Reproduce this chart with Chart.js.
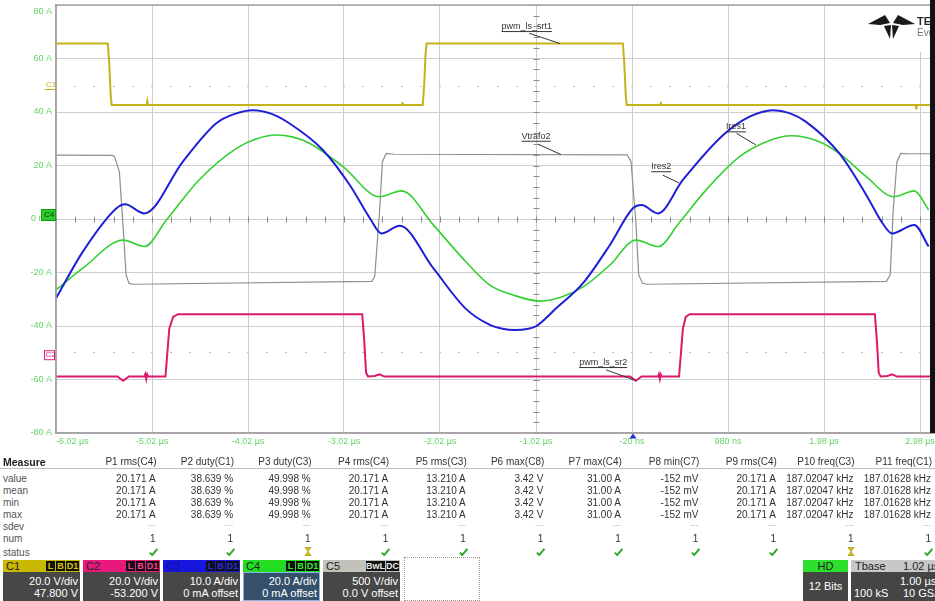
<!DOCTYPE html>
<html>
<head>
<meta charset="utf-8">
<title>Resonant converter currents</title>
<script src="https://cdn.jsdelivr.net/npm/chart.js@4/dist/chart.umd.min.js"></script>
<style>
  html, body { margin: 0; padding: 0; background: #fff; width: 935px; height: 601px; overflow: hidden;
               font-family: "Liberation Sans", Arial, sans-serif; }
  #wrap { position: absolute; left: 0; top: 0; width: 1040px; height: 460px; }
  #edge { position: absolute; left: 930px; top: 0; width: 5px; height: 433px; background: #111; }
  .t { position: absolute; white-space: nowrap; line-height: 12px; }
  .box { position: absolute; overflow: hidden; }
</style>
</head>
<body>
<div id="wrap"><canvas id="scope"></canvas></div>
<div id="edge"></div>
<div id="meas"></div>
<div id="bar"></div>
<script>
// ---- time axis (µs) and amplitude axis (A, 20 A/div) ----
const timeTicks  = [-6.02, -5.02, -4.02, -3.02, -2.02, -1.02, -0.02, 0.98, 1.98, 2.98, 3.98];
const timeLabels = ['-6.02 µs', '-5.02 µs', '-4.02 µs', '-3.02 µs', '-2.02 µs', '-1.02 µs', '-20 ns', '980 ns', '1.98 µs', '2.98 µs', '3.98 µs'];
const ampTicks   = [-80, -60, -40, -20, 0, 20, 40, 60, 80];
const ampLabels  = ['-80 A', '-60 A', '-40 A', '-20 A', '0 mA', '20 A', '40 A', '60 A', '80 A'];

// C1: pwm_ls_srt1 gate signal
const c1Time  = [-6.02, -5.48, -5.465, -5.45, -5.44, -5.075, -5.07, -5.065, -2.415, -2.41, -2.405, -2.20, -2.185, -2.17, -2.16, -0.115, -0.10, -0.085, -0.075, 0.275, 0.28, 0.285, 2.935, 2.94, 2.945, 3.10];
const c1Level = [65.6, 65.6, 58.0, 46.0, 42.6, 42.6, 43.8, 42.6, 42.6, 43.7, 42.6, 42.6, 50.0, 62.0, 65.6, 65.6, 58.0, 46.0, 42.6, 42.6, 43.8, 42.6, 42.6, 41.4, 42.6, 42.6];

// C2: pwm_ls_sr2 gate signal
const c2Time  = [-6.02, -5.38, -5.32, -5.26, -5.10, -5.09, -5.08, -5.07, -5.06, -4.88, -4.86, -4.84, -4.80, -4.75, -2.83, -2.81, -2.79, -2.77, -2.70, -2.65, -2.60, -0.04, 0.02, 0.08, 0.25, 0.26, 0.27, 0.28, 0.29, 0.47, 0.49, 0.51, 0.54, 0.58, 2.51, 2.53, 2.55, 2.57, 2.64, 2.69, 2.74, 3.10];
const c2Level = [-58.9, -58.9, -60.5, -58.9, -58.9, -58.0, -59.8, -58.1, -58.9, -58.9, -50.0, -41.0, -36.6, -35.6, -35.6, -45.0, -57.5, -58.9, -58.7, -58.1, -58.9, -58.9, -60.5, -58.9, -58.9, -58.0, -59.8, -58.1, -58.9, -58.9, -50.0, -41.0, -36.6, -35.6, -35.6, -45.0, -57.5, -58.9, -58.7, -58.1, -58.9, -58.9];

// C3: Ires1 resonant current
const c3Time  = [-6.02, -5.74, -5.39, -5.30, -5.10, -4.70, -4.35, -4.15, -3.97, -3.78, -3.59, -3.24, -2.96, -2.75, -2.63, -2.44, -2.09, -1.75, -1.50, -1.37, -1.24, -1.10, -1.02, -0.81, -0.53, -0.25, -0.01, 0.08, 0.25, 0.51, 0.93, 1.20, 1.45, 1.62, 1.79, 2.14, 2.42, 2.59, 2.69, 2.92, 3.07];
const c3Level = [-29.6, -12.2, 4.0, 5.5, 2.1, 21.4, 35.8, 39.4, 40.7, 39.4, 35.8, 25.8, 12.7, 0.3, -5.4, -2.5, -18.4, -33.6, -39.6, -41.0, -41.5, -41.0, -40.1, -33.4, -24.0, -9.7, 4.0, 5.2, 2.1, 14.6, 31.4, 38.2, 40.7, 39.6, 36.4, 24.5, 9.0, -1.6, -5.4, -2.2, -10.3];

// C4: Ires2 resonant current
const c4Time  = [-6.02, -5.74, -5.32, -5.10, -4.87, -4.53, -4.14, -3.93, -3.73, -3.55, -3.38, -3.03, -2.65, -2.42, -2.09, -1.75, -1.50, -1.26, -0.98, -0.74, -0.50, -0.25, 0.02, 0.25, 0.48, 0.75, 1.10, 1.38, 1.64, 1.93, 2.14, 2.42, 2.71, 2.92, 3.07];
const c4Level = [-26.5, -18.4, -7.9, -10.3, -0.4, 14.6, 26.4, 30.0, 31.4, 30.6, 28.3, 19.6, 8.3, 10.5, -2.2, -16.0, -24.7, -28.4, -30.7, -29.0, -24.7, -17.2, -7.9, -10.3, -1.0, 10.8, 23.3, 28.9, 31.1, 28.9, 24.5, 15.8, 8.3, 10.5, 3.4];

// C5: Vtrafo2 transformer voltage
const c5Time  = [-6.02, -5.43, -5.41, -5.36, -5.32, -5.29, -5.26, -5.22, -2.73, -2.70, -2.65, -2.62, -2.58, -2.50, -0.07, -0.03, 0.02, 0.05, 0.09, 0.13, 2.63, 2.67, 2.70, 2.74, 2.78, 2.85, 3.10];
const c5Level = [23.9, 23.8, 23.3, 17.7, -3.5, -20.9, -24.0, -24.4, -23.3, -21.5, 2.7, 21.4, 24.5, 24.2, 24.0, 21.4, -1.0, -20.9, -24.0, -24.4, -23.3, -20.9, 2.7, 21.4, 24.5, 24.4, 24.4];

// channel offset reference levels (grid units)
const c1Ref = 49.9;
const c2Ref = -49.8;

// measurement panel
const measHeaders = ['P1 rms(C4)', 'P2 duty(C1)', 'P3 duty(C3)', 'P4 rms(C4)', 'P5 rms(C3)', 'P6 max(C8)', 'P7 max(C4)', 'P8 min(C7)', 'P9 rms(C4)', 'P10 freq(C3)', 'P11 freq(C1)'];
const measValue   = ['20.171 A', '38.639 %', '49.998 %', '20.171 A', '13.210 A', '3.42 V', '31.00 A', '-152 mV', '20.171 A', '187.02047 kHz', '187.01628 kHz'];
const measMean    = measValue;
const measMin     = measValue;
const measMax     = measValue;
const measNum     = ['1', '1', '1', '1', '1', '1', '1', '1', '1', '1', '1'];
const measStatus  = ['ok', 'ok', 'warn', 'ok', 'ok', 'ok', 'ok', 'ok', 'ok', 'warn', 'ok'];

// channel descriptors
const channels = [
  { name: 'C1', head: '#c9b800', badgeText: '#d8c800', badges: ['L', 'B', 'D1'], vdiv: '20.0 V/div', offset: '47.800 V' },
  { name: 'C2', head: '#e8187c', badgeText: '#ff3a98', badges: ['L', 'B', 'D1'], vdiv: '20.0 V/div', offset: '-53.200 V' },
  { name: 'C3', head: '#1616dc', badgeText: '#2a2ae8', badges: ['L', 'B', 'D1'], vdiv: '10.0 A/div', offset: '0 mA offset', nameColor: '#10108a' },
  { name: 'C4', head: '#22dd22', badgeText: '#30ee30', badges: ['L', 'B', 'D1'], vdiv: '20.0 A/div', offset: '0 mA offset', active: true },
  { name: 'C5', head: '#c2c2ba', badgeText: '#e8e8e8', badges: ['BwL', 'DC'], vdiv: '500 V/div', offset: '0.0 V offset' }
];

const pts = (ts, vs) => ts.map((t, i) => ({ x: t, y: vs[i] }));

const FONT = '"Liberation Sans", Arial, sans-serif';
const AXIS_GREEN = '#62d462';

// trace tags: text anchored in data units with a leader line to the trace
const traceTags = [
  { text: 'pwm_ls_srt1', t: -1.38, v: 71.0, from: [-1.09, 69.4], to: [-0.77, 65.6] },
  { text: 'Vtrafo2',     t: -1.17, v: 30.0, from: [-1.00, 28.0], to: [-0.76, 24.1] },
  { text: 'Ires2',       t: 0.18,  v: 18.6, from: [0.30, 16.4],  to: [0.47, 13.5] },
  { text: 'Ires1',       t: 0.96,  v: 33.5, from: [1.07, 32.0],  to: [1.27, 27.7] },
  { text: 'pwm_ls_sr2',  t: -0.57, v: -54.6, from: [-0.29, -56.4], to: [0.02, -60.4] }
];

const scopeDecor = {
  id: 'scopeDecor',
  beforeDatasetsDraw(chart) {
    const { ctx, scales: { x, y } } = chart;
    ctx.save();
    // minor ticks on the centre cross
    ctx.strokeStyle = '#8c8c8c';
    ctx.lineWidth = 1;
    const y0 = Math.round(y.getPixelForValue(0)) + 0.5;
    const xc = Math.round(x.getPixelForValue(-1.02)) + 0.5;
    ctx.beginPath();
    for (let k = 0; k <= 50; k++) {
      const px = Math.round(x.getPixelForValue(-6.02 + k * 0.2)) + 0.5;
      ctx.moveTo(px, y0 - 3); ctx.lineTo(px, y0 + 3);
    }
    for (let k = 0; k <= 40; k++) {
      const py = Math.round(y.getPixelForValue(-80 + k * 4)) + 0.5;
      ctx.moveTo(xc - 3, py); ctx.lineTo(xc + 3, py);
    }
    ctx.stroke();
    // dotted channel reference lines
    ctx.fillStyle = '#bcbcbc';
    [c1Ref, c2Ref].forEach(v => {
      const py = Math.round(y.getPixelForValue(v));
      for (let k = 0; k <= 50; k++) {
        const px = Math.round(x.getPixelForValue(-6.02 + k * 0.2));
        ctx.fillRect(px - 1, py, 2, 1);
      }
    });
    ctx.restore();
  },
  afterDatasetsDraw(chart) {
    const { ctx, chartArea: a, scales: { x, y } } = chart;
    ctx.save();
    // frame
    ctx.strokeStyle = '#a4a4a4';
    ctx.lineWidth = 1.5;
    ctx.strokeRect(a.left, a.top, a.right - a.left, a.bottom - a.top);

    // trace tags
    ctx.font = '9px ' + FONT;
    ctx.fillStyle = '#333';
    ctx.strokeStyle = '#333';
    ctx.lineWidth = 1;
    ctx.textBaseline = 'alphabetic';
    traceTags.forEach(tag => {
      const tx = x.getPixelForValue(tag.t), ty = y.getPixelForValue(tag.v);
      ctx.fillText(tag.text, tx, ty);
      const w = ctx.measureText(tag.text).width;
      ctx.beginPath();
      ctx.moveTo(tx, ty + 2.5); ctx.lineTo(tx + w, ty + 2.5);
      ctx.moveTo(x.getPixelForValue(tag.from[0]), y.getPixelForValue(tag.from[1]));
      ctx.lineTo(x.getPixelForValue(tag.to[0]), y.getPixelForValue(tag.to[1]));
      ctx.stroke();
    });

    // channel markers at the left edge
    const yC1 = y.getPixelForValue(c1Ref), yC2 = y.getPixelForValue(c2Ref), yC4 = y.getPixelForValue(0);
    ctx.font = '8px ' + FONT;
    ctx.textBaseline = 'middle';
    ctx.fillStyle = '#c2b000';
    ctx.fillText('C1', a.left - 10, yC1 - 1);
    ctx.strokeStyle = '#c2b000';
    ctx.beginPath(); ctx.moveTo(a.left - 11, yC1 + 4); ctx.lineTo(a.left - 1, yC1 + 4); ctx.stroke();
    ctx.strokeStyle = '#e0207a';
    ctx.strokeRect(a.left - 11.5, yC2 - 1.5, 10, 9);
    ctx.fillStyle = '#e0207a';
    ctx.fillText('C2', a.left - 10.5, yC2 + 3);
    ctx.fillStyle = '#2ccc2c';
    ctx.fillRect(a.left - 15, yC4 - 10, 15, 12);
    ctx.strokeStyle = '#139a13';
    ctx.strokeRect(a.left - 14.5, yC4 - 9.5, 14, 11);
    ctx.fillStyle = '#0b3d0b';
    ctx.fillText('C4', a.left - 12, yC4 - 4);

    // trigger position marker
    const xt = x.getPixelForValue(-0.02);
    ctx.fillStyle = '#1f2fe0';
    ctx.beginPath();
    ctx.moveTo(xt + 1, a.bottom + 0.5);
    ctx.lineTo(xt + 4.5, a.bottom + 5.5);
    ctx.lineTo(xt - 2.5, a.bottom + 5.5);
    ctx.closePath();
    ctx.fill();

    // vendor mark in the top right corner
    ctx.fillStyle = '#fff';
    ctx.fillRect(846, 6, 84, 46);
    ctx.fillStyle = '#1a1a1a';
    ctx.beginPath();
    ctx.moveTo(868, 24); ctx.lineTo(885, 15); ctx.lineTo(890, 23); ctx.lineTo(880, 25); ctx.closePath();
    ctx.moveTo(915, 24); ctx.lineTo(898, 15); ctx.lineTo(893, 23); ctx.lineTo(903, 25); ctx.closePath();
    ctx.moveTo(884, 26); ctx.lineTo(891, 25); ctx.lineTo(890, 39); ctx.closePath();
    ctx.moveTo(899, 26); ctx.lineTo(892, 25); ctx.lineTo(893, 39); ctx.closePath();
    ctx.fill();
    ctx.textBaseline = 'alphabetic';
    ctx.font = 'bold 11px ' + FONT;
    ctx.fillStyle = '#2a2a2a';
    ctx.fillText('TELEDYNE', 917, 25);
    ctx.font = '10px ' + FONT;
    ctx.fillStyle = '#777';
    ctx.fillText('Everywhere', 917, 36);
    ctx.restore();
  }
};

const mkSet = (data, color, width, smooth) => ({
  data, borderColor: color, borderWidth: width, pointRadius: 0, fill: false,
  tension: 0, cubicInterpolationMode: smooth ? 'monotone' : 'default'
});

new Chart(document.getElementById('scope'), {
  type: 'line',
  data: {
    datasets: [
      mkSet(pts(c3Time, c3Level), '#1f1fd6', 2, true),
      mkSet(pts(c4Time, c4Level), '#33d033', 1.6, true),
      mkSet(pts(c2Time, c2Level), '#dc1a6c', 2, false),
      mkSet(pts(c1Time, c1Level), '#c6b31c', 2, false),
      mkSet(pts(c5Time, c5Level), '#8f8f8f', 1.2, false)
    ]
  },
  options: {
    responsive: true,
    maintainAspectRatio: false,
    animation: false,
    layout: { padding: { left: 0, top: 5, right: 24, bottom: 0 } },
    plugins: { legend: { display: false }, tooltip: { enabled: false } },
    scales: {
      x: {
        type: 'linear', min: -6.02, max: 3.98,
        afterBuildTicks: s => { s.ticks = timeTicks.map(v => ({ value: v })); },
        afterFit: s => { s.height = 27; s.paddingLeft = 0; s.paddingRight = 0; },
        ticks: {
          callback: (v, i) => timeLabels[i], autoSkip: false, maxRotation: 0, align: 'inner',
          color: AXIS_GREEN, font: { family: FONT, size: 9 }, padding: 3
        },
        grid: { color: '#cdcdcd', lineWidth: 1, drawTicks: false },
        border: { color: '#a4a4a4', width: 1.5 }
      },
      y: {
        min: -80, max: 80,
        afterBuildTicks: s => { s.ticks = ampTicks.map(v => ({ value: v })); },
        afterFit: s => { s.width = 56; s.paddingTop = 0; s.paddingBottom = 0; },
        ticks: {
          // the top label sits just inside the frame, one half line lower
          callback: v => v === 80 ? ['', ampLabels[ampTicks.indexOf(v)]] : ampLabels[ampTicks.indexOf(v)],
          autoSkip: false,
          color: AXIS_GREEN, font: { family: FONT, size: 9, lineHeight: 1.5 }, padding: 4
        },
        grid: { color: '#cdcdcd', lineWidth: 1, drawTicks: false },
        border: { color: '#a4a4a4', width: 1.5 }
      }
    }
  },
  plugins: [scopeDecor]
});

// ---- measurement panel ----
const meas = document.getElementById('meas');
function put(parent, text, css) {
  const d = document.createElement('div');
  d.className = 't';
  d.textContent = text;
  Object.assign(d.style, css);
  parent.appendChild(d);
  return d;
}
const colRight = i => 79 + (i + 1) * 77.55;
put(meas, 'Measure', { left: '3px', top: '456px', font: 'bold 10.5px ' + FONT, color: '#222' });
const rule = document.createElement('div');
Object.assign(rule.style, { position: 'absolute', left: '0px', top: '468px', width: '935px', height: '1px', background: '#bdbdbd' });
meas.appendChild(rule);
measHeaders.forEach((h, i) => put(meas, h, { right: (935 - colRight(i)) + 'px', top: '456px', font: '10px ' + FONT, color: '#333' }));

const rows = [
  ['value', measValue, 472.5], ['mean', measMean, 484.5], ['min', measMin, 496.8],
  ['max', measMax, 509], ['sdev', null, 520.5], ['num', measNum, 532.5]
];
rows.forEach(([label, vals, top]) => {
  put(meas, label, { left: '3px', top: top + 'px', font: '10px ' + FONT, color: '#555' });
  measHeaders.forEach((h, i) => {
    if (vals) put(meas, vals[i], { right: (935 - colRight(i) + 1) + 'px', top: top + 'px', font: '10px ' + FONT, color: '#333' });
    else put(meas, '---', { right: (935 - colRight(i) + 1) + 'px', top: (top - 1) + 'px', font: '8px ' + FONT, color: '#b0b0b0' });
  });
});
put(meas, 'status', { left: '3px', top: '547px', font: '10px ' + FONT, color: '#555' });
const okIcon = '<svg width="9" height="8" viewBox="0 0 9 8"><path d="M0.8 4.6 L3.2 7 L8.4 0.8" stroke="#2fae2f" stroke-width="2" fill="none"/></svg>';
const warnIcon = '<svg width="8" height="9" viewBox="0 0 8 9"><path d="M1 0.5 H7 L4 4.5 L7 8.5 H1 L4 4.5 Z" fill="#e2c400" stroke="#8a7a00" stroke-width="0.6"/></svg>';
measStatus.forEach((s, i) => {
  const d = document.createElement('div');
  d.innerHTML = s === 'ok' ? okIcon : warnIcon;
  Object.assign(d.style, { position: 'absolute', left: (colRight(i) - 8) + 'px', top: (s === 'ok' ? 548 : 547) + 'px', lineHeight: '0' });
  meas.appendChild(d);
});

// ---- channel / timebase bar ----
const bar = document.getElementById('bar');
function box(left, top, w, h, bg, extra) {
  const d = document.createElement('div');
  d.className = 'box';
  Object.assign(d.style, { left: left + 'px', top: top + 'px', width: w + 'px', height: h + 'px', background: bg }, extra || {});
  bar.appendChild(d);
  return d;
}
channels.forEach((c, i) => {
  const left = 3 + i * 80;
  const head = box(left, 560, 77, 12, c.head);
  put(head, c.name, { left: '3px', top: '0px', font: '11px ' + FONT, color: c.nameColor || '#222' });
  let bx = 77;
  for (let k = c.badges.length - 1; k >= 0; k--) {
    const txt = c.badges[k];
    const w = txt.length === 1 ? 9 : (txt.length === 2 ? 13 : 19);
    bx -= w + 1;
    const b = document.createElement('div');
    b.className = 't';
    b.textContent = txt;
    Object.assign(b.style, { left: bx + 'px', top: '1px', width: w + 'px', height: '10px', lineHeight: '10px',
      background: '#111', color: c.badgeText, font: 'bold 9px ' + FONT, textAlign: 'center' });
    head.appendChild(b);
  }
  const body = box(left, 572, 77, 29, c.active ? '#34506b' : '#474747',
    c.active ? { boxSizing: 'border-box', border: '1px solid #8cb6e2' } : null);
  put(body, c.vdiv, { right: '2px', top: (c.active ? 2 : 3) + 'px', font: '11px ' + FONT, color: '#fff' });
  put(body, c.offset, { right: '2px', top: (c.active ? 14 : 15) + 'px', font: '11px ' + FONT, color: '#fff' });
});
box(404, 557, 76, 44, 'transparent', { boxSizing: 'border-box', border: '1px dotted #9a9a9a' });

const hdHead = box(803, 560, 45, 12, '#2ee02e');
put(hdHead, 'HD', { left: '0px', width: '45px', textAlign: 'center', top: '0px', font: '11px ' + FONT, color: '#1a1a1a' });
const hdBody = box(803, 572, 45, 29, '#454545');
put(hdBody, '12 Bits', { left: '0px', width: '45px', textAlign: 'center', top: '8px', font: '11px ' + FONT, color: '#fff' });

const tbHead = box(851, 560, 84, 12, '#c8c8c8');
put(tbHead, 'Tbase', { left: '4px', top: '0px', font: '11px ' + FONT, color: '#222' });
put(tbHead, '1.02 µs', { left: '52px', top: '0px', font: '11px ' + FONT, color: '#222' });
const tbBody = box(851, 572, 84, 29, '#454545');
put(tbBody, '1.00 µs/div', { left: '49px', top: '3px', font: '11px ' + FONT, color: '#fff' });
put(tbBody, '100 kS', { left: '3px', top: '15px', font: '11px ' + FONT, color: '#fff' });
put(tbBody, '10 GS/s', { left: '52px', top: '15px', font: '11px ' + FONT, color: '#fff' });
</script>
</body>
</html>
